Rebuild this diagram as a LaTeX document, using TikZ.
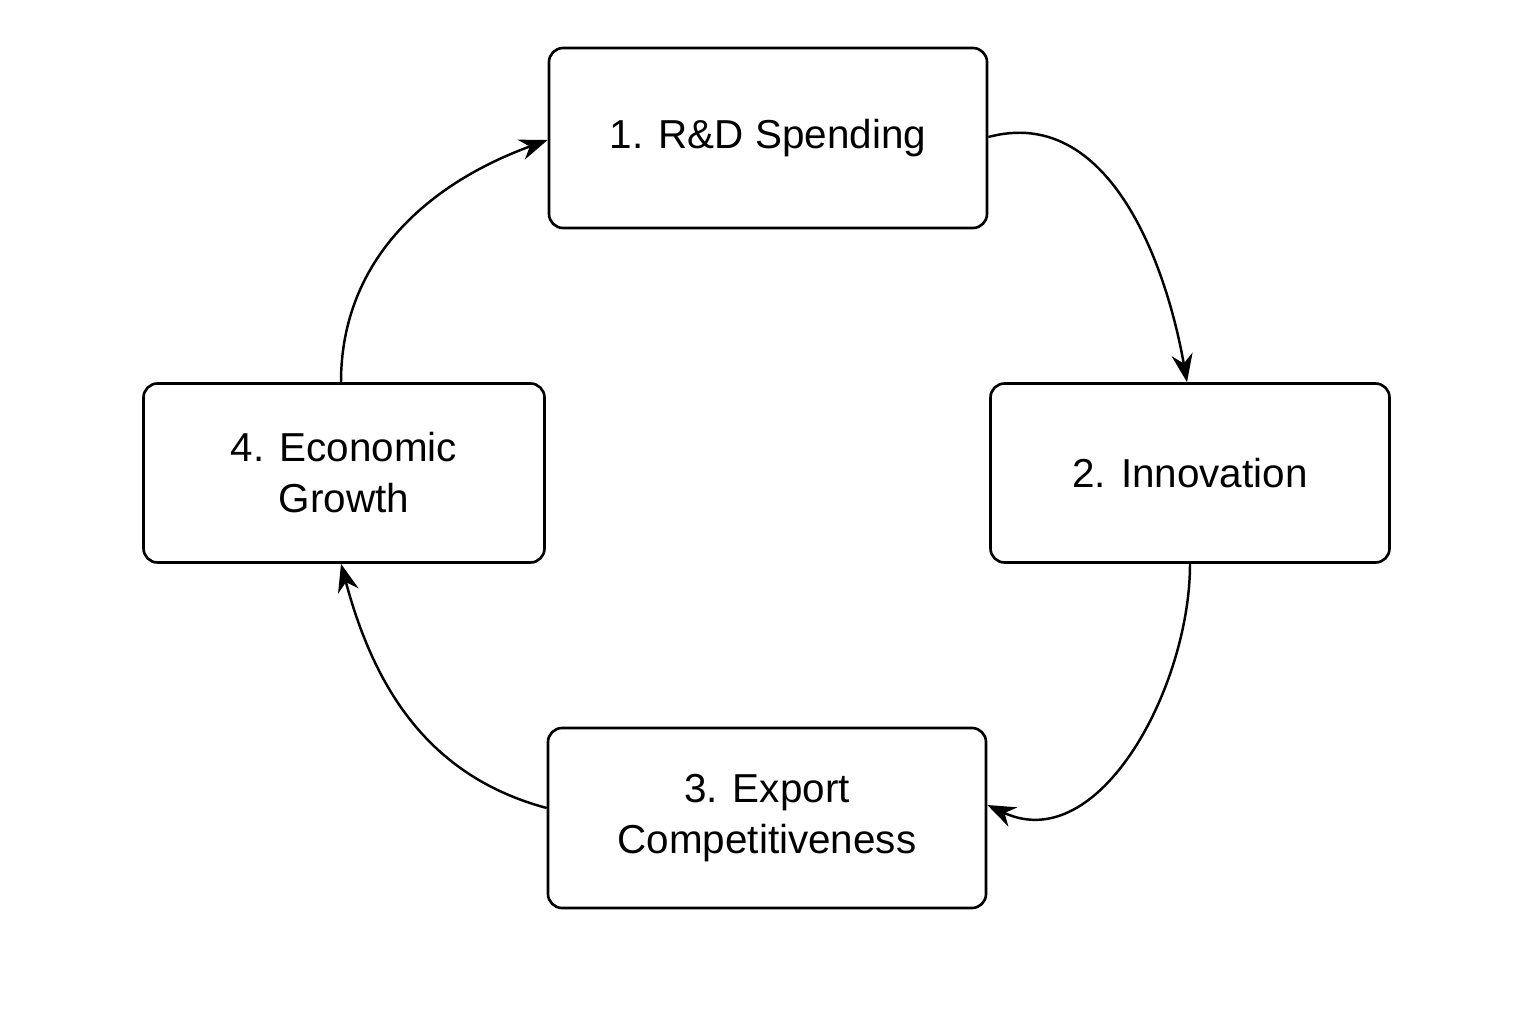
\documentclass[tikz,border=0pt]{standalone}
\usepackage{fontspec}
\setmainfont{Liberation Sans}
\usetikzlibrary{arrows.meta,positioning}
\begin{document}
\begin{tikzpicture}[
    stage/.style={draw,line width=1.5pt,rounded corners=8pt,align=center,
      font=\fontsize{23}{29}\selectfont},
    flow/.style={-{Stealth[length=16pt,width=12pt]},line width=1.4pt}]
    \useasboundingbox (0,0) rectangle (30.72,20.48);
    % the four stages
    \node[stage,minimum width=8.76cm,minimum height=3.6cm] (rd) at (15.36,17.72) {1. R\&D Spending};
    \node[stage,minimum width=7.98cm,minimum height=3.58cm] (inno) at (23.8,11.02) {2. Innovation};
    \node[stage,minimum width=8.76cm,minimum height=3.6cm] (exp) at (15.34,4.12) {3. Export\\Competitiveness};
    \node[stage,minimum width=8.02cm,minimum height=3.58cm] (grow) at (6.88,11.02) {4. Economic\\Growth};

    % the cycle
    \draw[flow] ([yshift=0.02cm]rd.east) to[out=15,in=100] ([xshift=-0.06cm]inno.north);
    \draw[flow] (inno.south) to[out=-90,in=-25] ([yshift=0.26cm]exp.east);
    \draw[flow] ([yshift=0.2cm]exp.west) to[out=165,in=-75] ([xshift=-0.06cm]grow.south);
    \draw[flow] ([xshift=-0.06cm]grow.north) to[out=90,in=200] ([yshift=-0.04cm]rd.west);
\end{tikzpicture}
\end{document}
